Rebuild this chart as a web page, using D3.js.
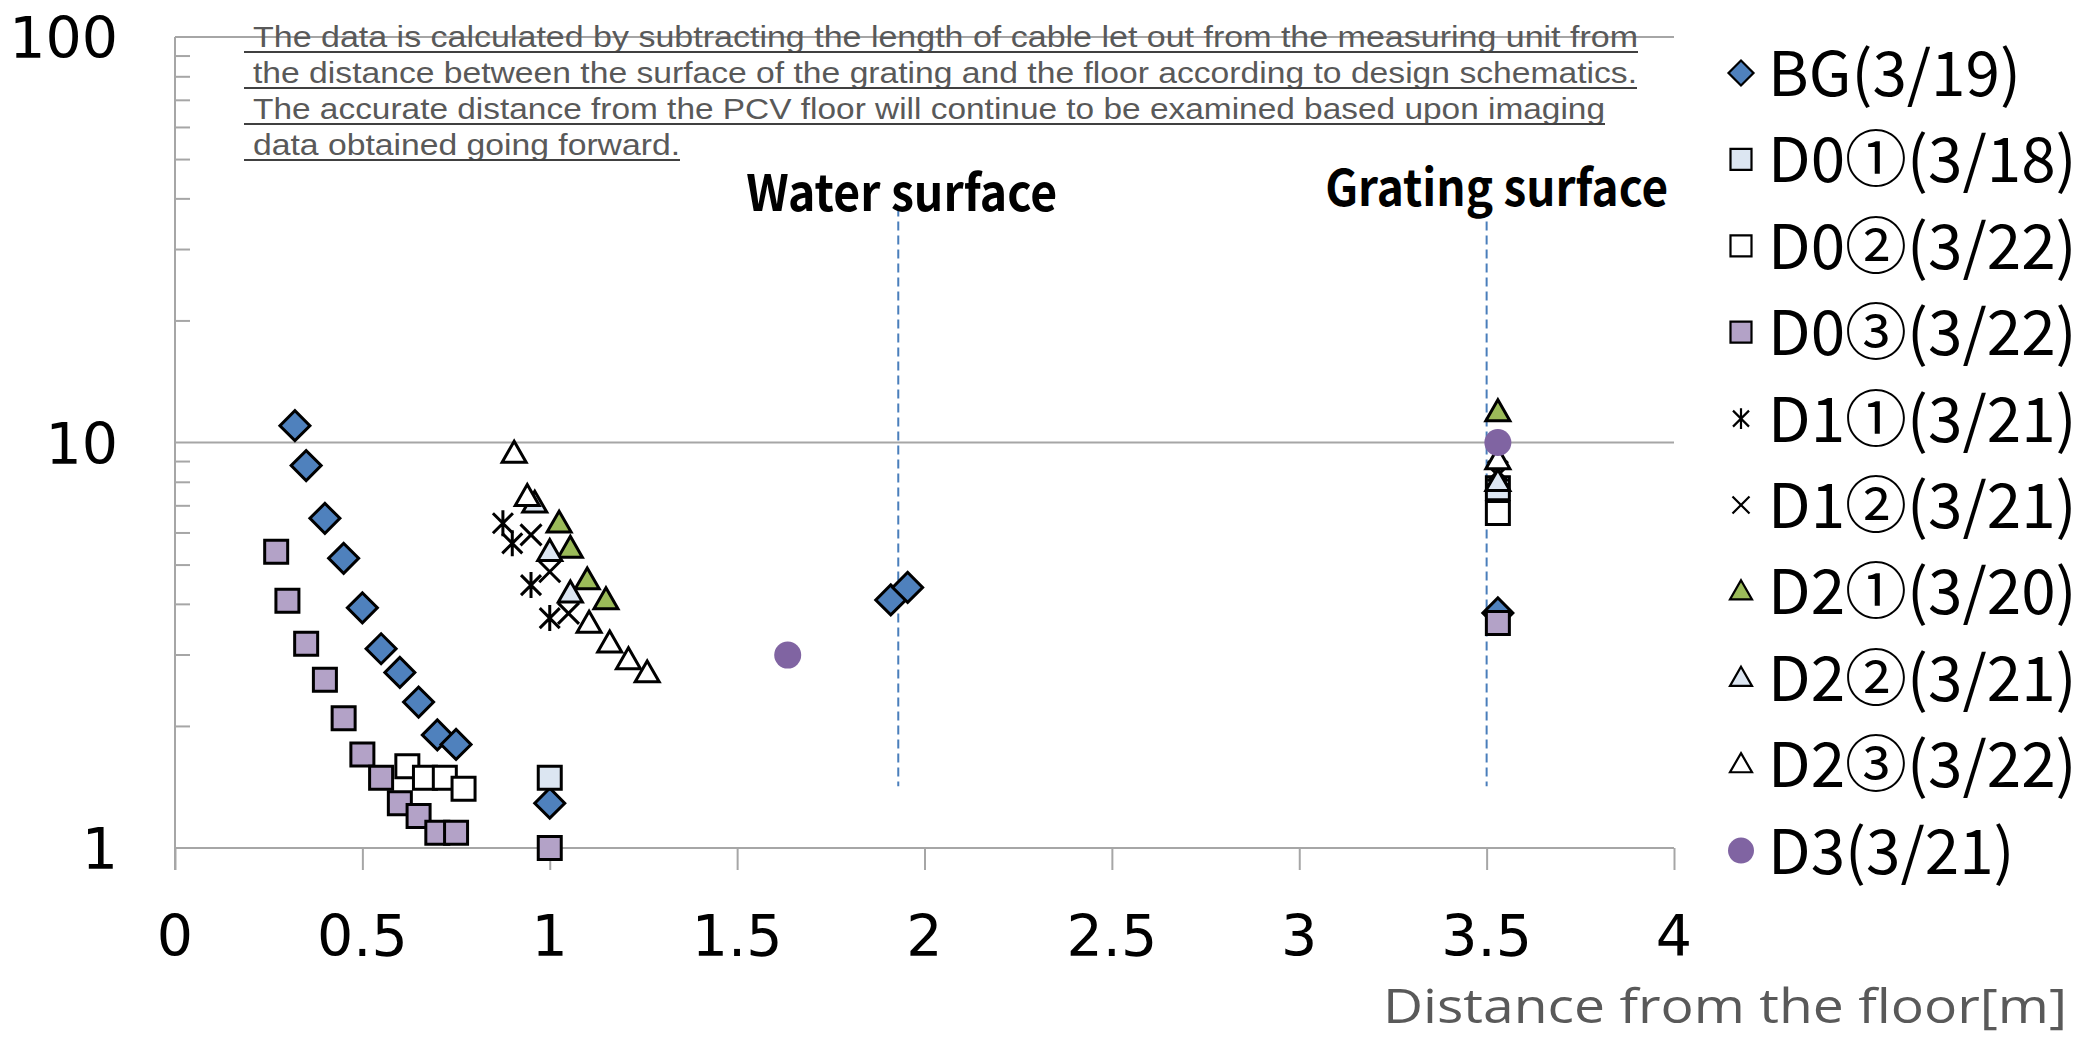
<!DOCTYPE html>
<html>
<head>
<meta charset="utf-8">
<script src="https://cdn.jsdelivr.net/npm/d3@7"></script>
<style>
  html, body { margin: 0; padding: 0; background: #fff; }
  svg { display: block; }
</style>
</head>
<body>
<svg id="chart" width="2092" height="1039"></svg>
<script>
// ---------------- DATA ----------------
const xTickValues = [0, 0.5, 1, 1.5, 2, 2.5, 3, 3.5, 4];
const xTickLabels = ["0", "0.5", "1", "1.5", "2", "2.5", "3", "3.5", "4"];
const yTickValues = [1, 10, 100];
const yTickLabels = ["1", "10", "100"];
const yMinorValues = [2, 3, 4, 5, 6, 7, 8, 9, 20, 30, 40, 50, 60, 70, 80, 90];

const seriesNames = ["BG(3/19)", "D0①(3/18)", "D0②(3/22)", "D0③(3/22)", "D1①(3/21)",
                     "D1②(3/21)", "D2①(3/20)", "D2②(3/21)", "D2③(3/22)", "D3(3/21)"];

const bgData   = [[0.32,11.0],[0.35,8.77],[0.40,6.50],[0.45,5.18],[0.50,3.91],[0.55,3.10],[0.60,2.71],
                  [0.65,2.29],[0.70,1.90],[0.75,1.80],[1.00,1.29],[1.91,4.09],[1.955,4.39],[3.53,3.80]];
const d0_1Data = [[1.00,1.49],[3.53,7.71]];
const d0_2Data = [[0.62,1.59],[0.667,1.49],[0.72,1.49],[0.77,1.40],[3.53,6.70]];
const d0_3Data = [[0.27,5.38],[0.30,4.07],[0.35,3.19],[0.40,2.60],[0.45,2.09],[0.50,1.70],[0.55,1.49],
                  [0.60,1.29],[0.65,1.20],[0.70,1.09],[0.75,1.09],[1.00,1.00],[3.53,3.59]];
const d1_1Data = [[0.875,6.32],[0.90,5.64],[0.95,4.45],[1.00,3.69],[3.53,8.5]];
const d1_2Data = [[0.95,5.92],[1.00,4.80],[1.05,3.79],[3.53,8.3]];
const d2_1Data = [[1.025,6.32],[1.055,5.48],[1.10,4.58],[1.15,4.09],[3.53,11.9]];
const d2_2Data = [[0.96,7.08],[1.00,5.38],[1.055,4.25],[3.53,8.0]];
const d2_3Data = [[0.905,9.4],[0.94,7.35],[1.105,3.58],[1.16,3.20],[1.21,2.91],[1.26,2.70],[3.53,9.06]];
const d3Data   = [[1.635,2.99],[3.53,10.0]];

const refLineX = [1.93, 3.5];
const refLineLabels = ["Water surface", "Grating surface"];
const refLineYRange = [1.42, 38];

const noteLines = [
  "The data is calculated by subtracting the length of cable let out from the measuring unit from",
  "the distance between the surface of the grating and the floor according to design schematics.",
  "The accurate distance from the PCV floor will continue to be examined based upon imaging",
  "data obtained going forward."
];
const xAxisTitle = "Distance from the floor[m]";

// ---------------- STYLE / LAYOUT ----------------
const seriesData = [bgData, d0_1Data, d0_2Data, d0_3Data, d1_1Data, d1_2Data, d2_1Data, d2_2Data, d2_3Data, d3Data];
const seriesStyle = [
  {shape: "diamond",  fill: "#4f81bd"},
  {shape: "square",   fill: "#dce6f2"},
  {shape: "square",   fill: "#ffffff"},
  {shape: "square",   fill: "#b3a2c7"},
  {shape: "asterisk", fill: "none"},
  {shape: "cross",    fill: "none"},
  {shape: "triangle", fill: "#9bbb59"},
  {shape: "triangle", fill: "#dce6f2"},
  {shape: "triangle", fill: "#ffffff"},
  {shape: "circle",   fill: "#8064a2"}
];

const W = 2092, H = 1039;
const svg = d3.select("#chart");
svg.append("rect").attr("width", W).attr("height", H).attr("fill", "#fff");

const x = d3.scaleLinear().domain([0, 4]).range([175, 1674]);
const y = d3.scaleLog().domain([1, 100]).range([848, 37]);

const gridColor = "#a6a6a6";

// gridlines at 10, 100
svg.append("g").selectAll("line").data(yTickValues.filter(v => v > 1)).join("line")
  .attr("x1", x(0)).attr("x2", x(4))
  .attr("y1", d => y(d)).attr("y2", d => y(d))
  .attr("stroke", gridColor).attr("stroke-width", 2);

// Y axis (line + minor ticks inward)
const yAxisG = svg.append("g").attr("transform", `translate(${x(0)},0)`);
yAxisG.call(d3.axisRight(y).tickValues(yMinorValues).tickSize(15).tickFormat(""));
yAxisG.select(".domain").remove();
yAxisG.selectAll(".tick line").attr("stroke", gridColor).attr("stroke-width", 2);
svg.append("line").attr("x1", x(0)).attr("x2", x(0)).attr("y1", y(100)).attr("y2", y(1) + 22)
  .attr("stroke", gridColor).attr("stroke-width", 2);

// Y tick labels
svg.append("g").selectAll("text").data(yTickValues).join("text")
  .attr("x", 118).attr("y", d => y(d) + 21)
  .attr("text-anchor", "end")
  .attr("font-family", "'DejaVu Sans', sans-serif").attr("font-size", 57)
  .attr("fill", "#000")
  .text((d, i) => yTickLabels[i]);

// X axis
const xAxisG = svg.append("g").attr("transform", `translate(0,${y(1)})`);
xAxisG.call(d3.axisBottom(x).tickValues(xTickValues).tickSize(22).tickFormat(""));
xAxisG.select(".domain").attr("stroke", gridColor).attr("stroke-width", 2).attr("d", `M${x(0)},0H${x(4)}`);
xAxisG.selectAll(".tick line").attr("stroke", gridColor).attr("stroke-width", 2);

svg.append("g").selectAll("text").data(xTickValues).join("text")
  .attr("x", d => x(d)).attr("y", 956)
  .attr("text-anchor", "middle")
  .attr("font-family", "'DejaVu Sans', sans-serif").attr("font-size", 57)
  .attr("fill", "#000")
  .text((d, i) => xTickLabels[i]);

// X axis title
svg.append("text").attr("x", 1383).attr("y", 1023)
  .attr("font-family", "'Open Sans', sans-serif").attr("font-size", 48)
  .attr("fill", "#595959")
  .attr("textLength", 684).attr("lengthAdjust", "spacingAndGlyphs")
  .text(xAxisTitle);

// Annotation note
const noteLens = [1385, 1384, 1352, 427];
const noteG = svg.append("g");
noteLines.forEach((t, i) => {
  const base = 47 + i * 36;
  noteG.append("text").attr("x", 253).attr("y", base)
    .attr("font-family", "'Liberation Sans', sans-serif").attr("font-size", 30)
    .attr("fill", "#595959")
    .attr("textLength", noteLens[i]).attr("lengthAdjust", "spacingAndGlyphs")
    .text(t);
  noteG.append("line").attr("x1", 244).attr("x2", 253 + noteLens[i])
    .attr("y1", base + 5).attr("y2", base + 5)
    .attr("stroke", "#404040").attr("stroke-width", 2);
});

// Reference dashed lines and labels
const refLabelDx = [3.5, 10];
const refLabelBase = [211, 206];
const refLabelLen = [311, 343];
refLineX.forEach((rx, i) => {
  svg.append("line").attr("x1", x(rx)).attr("x2", x(rx))
    .attr("y1", y(refLineYRange[1])).attr("y2", y(refLineYRange[0]))
    .attr("stroke", "#4a7ebb").attr("stroke-width", 2).attr("stroke-dasharray", "9,5");
  svg.append("text").attr("x", x(rx) + refLabelDx[i]).attr("y", refLabelBase[i])
    .attr("text-anchor", "middle")
    .attr("font-family", "'Noto Sans CJK JP', sans-serif").attr("font-weight", 700).attr("font-size", 50)
    .attr("fill", "#000")
    .attr("textLength", refLabelLen[i]).attr("lengthAdjust", "spacingAndGlyphs")
    .text(refLineLabels[i]);
});

// ---------------- MARKERS ----------------
function drawMarker(g, shape, fill, s, sw) {
  if (shape === "diamond") {
    g.append("path").attr("d", d3.symbol().type(d3.symbolSquare).size((s / Math.SQRT2) ** 2)())
      .attr("transform", "rotate(45)")
      .attr("fill", fill).attr("stroke", "#000").attr("stroke-width", sw).attr("stroke-linejoin", "miter");
  } else if (shape === "square") {
    g.append("path").attr("d", d3.symbol().type(d3.symbolSquare).size(s * s)())
      .attr("fill", fill).attr("stroke", "#000").attr("stroke-width", sw);
  } else if (shape === "triangle") {
    const h = s * 0.87;
    g.append("path").attr("d", `M0,${-h * 0.58}L${s / 2},${h * 0.42}L${-s / 2},${h * 0.42}Z`)
      .attr("fill", fill).attr("stroke", "#000").attr("stroke-width", sw).attr("stroke-linejoin", "miter");
  } else if (shape === "circle") {
    g.append("circle").attr("r", s / 2).attr("fill", fill);
  } else if (shape === "cross" || shape === "asterisk") {
    const r = s / 2;
    let d = `M${-r},${-r}L${r},${r}M${-r},${r}L${r},${-r}`;
    if (shape === "asterisk") d += `M0,${-r * 1.3}L0,${r * 1.3}`;
    g.append("path").attr("d", d).attr("fill", "none").attr("stroke", "#000").attr("stroke-width", sw);
  }
}

const plotSize = {diamond: 30, square: 23, triangle: 24, circle: 27, cross: 21, asterisk: 20};
const legendSize = {diamond: 25, square: 21, triangle: 22, circle: 26, cross: 17, asterisk: 16};

const marksG = svg.append("g");
seriesData.forEach((data, si) => {
  const st = seriesStyle[si];
  const sg = marksG.append("g");
  sg.selectAll("g").data(data).join("g")
    .attr("transform", d => `translate(${x(d[0])},${y(d[1])})`)
    .each(function() { drawMarker(d3.select(this), st.shape, st.fill, plotSize[st.shape], 3); });
});

// ---------------- LEGEND ----------------
const legendG = svg.append("g");
seriesNames.forEach((name, i) => {
  const cy = 73 + i * 86.4;
  const st = seriesStyle[i];
  const mg = legendG.append("g").attr("transform", `translate(1741,${cy})`);
  drawMarker(mg, st.shape, st.fill, legendSize[st.shape], 2.2);
  legendG.append("text").attr("x", 1768).attr("y", cy + 23)
    .attr("font-family", "'Noto Sans CJK JP', sans-serif").attr("font-size", 62)
    .attr("fill", "#000")
    .text(name);
});
</script>
</body>
</html>
